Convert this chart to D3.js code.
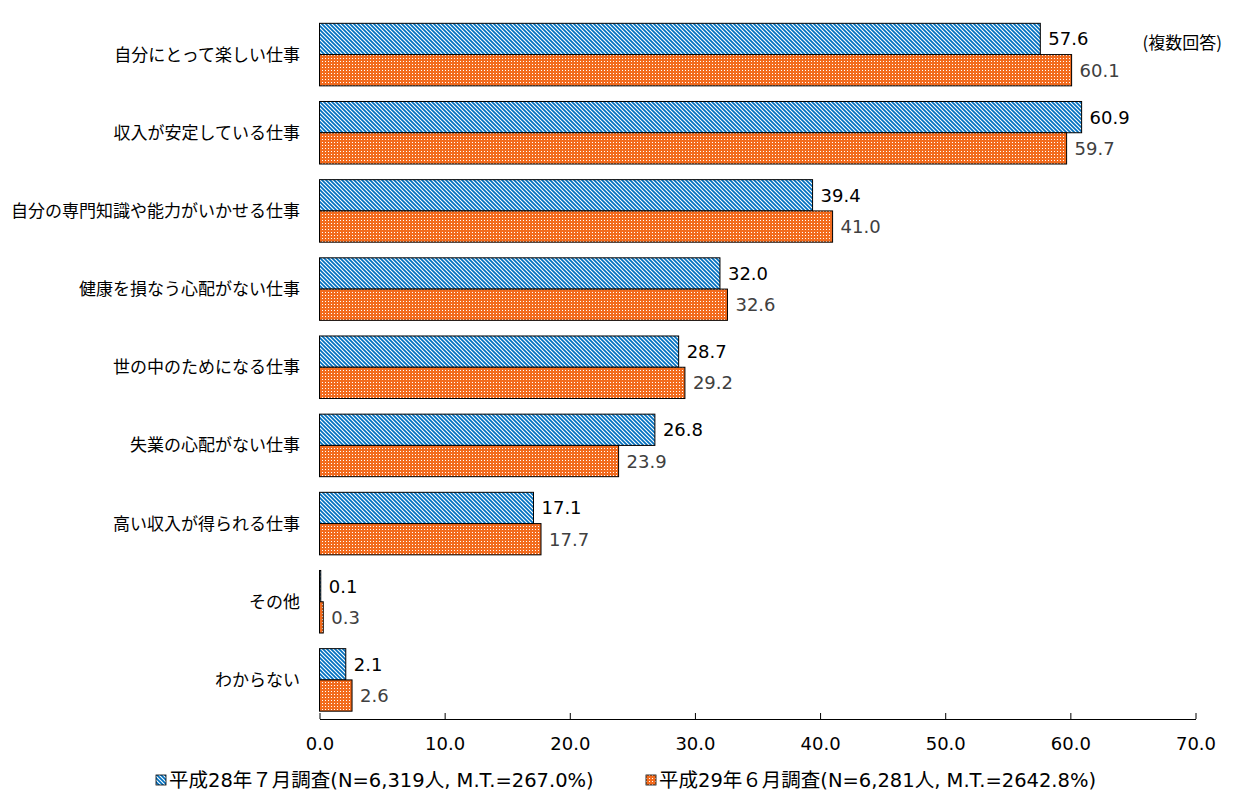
<!DOCTYPE html>
<html><head><meta charset="utf-8">
<script src="https://cdn.jsdelivr.net/npm/d3@7"></script>
<style>
body{margin:0;background:#fff;}
svg{display:block;}
</style></head>
<body>
<svg id="c" width="1233" height="808"></svg>
<script>
const categories = ["自分にとって楽しい仕事","収入が安定している仕事","自分の専門知識や能力がいかせる仕事","健康を損なう心配がない仕事","世の中のためになる仕事","失業の心配がない仕事","高い収入が得られる仕事","その他","わからない"];
const seriesNames = ["平成28年７月調査(N=6,319人, M.T.=267.0%)","平成29年６月調査(N=6,281人, M.T.=2642.8%)"];
const valuesH28 = [57.6,60.9,39.4,32.0,28.7,26.8,17.1,0.1,2.1];
const valuesH29 = [60.1,59.7,41.0,32.6,29.2,23.9,17.7,0.3,2.6];
const xTicks = [0,10,20,30,40,50,60,70];
const note = "(複数回答)";

const svg = d3.select("#c");
const jp = "'Noto Sans CJK JP','Noto Sans',sans-serif";
const num = "'DejaVu Sans',Verdana,sans-serif";
const mixed = "'DejaVu Sans','Noto Sans CJK JP',sans-serif";

const defs = svg.append("defs");
const pb = defs.append("pattern").attr("id","pBlue").attr("patternUnits","userSpaceOnUse").attr("width",4).attr("height",4);
pb.append("rect").attr("width",4).attr("height",4).attr("fill","#0070C0");
pb.append("path").attr("d","M-1,-1 L5,5 M-1,3 L1,5 M3,-1 L5,1").attr("stroke","#fff").attr("stroke-width",1.1);
const po = defs.append("pattern").attr("id","pOrange").attr("patternUnits","userSpaceOnUse").attr("width",3).attr("height",3);
po.append("rect").attr("width",3).attr("height",3).attr("fill","#F26B1E");
po.append("rect").attr("x",1).attr("y",1).attr("width",1).attr("height",1).attr("fill","#FFFFFF");

const x = d3.scaleLinear().domain([0,70]).range([319.5,1195.5]);
const y = d3.scaleBand().domain(categories).range([15.5,719]).paddingInner(0.2).paddingOuter(0.1);
const sub = d3.scaleBand().domain([0,1]).range([0,y.bandwidth()]);

const series = [
  {vals:valuesH28, fill:"url(#pBlue)", lab:"#000"},
  {vals:valuesH29, fill:"url(#pOrange)", lab:"#404040"}
];

series.forEach((s,si)=>{
  const g = svg.append("g");
  g.selectAll("rect").data(categories).join("rect")
    .attr("x",x(0))
    .attr("y",(c)=>y(c)+sub(si))
    .attr("width",(c,i)=>x(s.vals[i])-x(0))
    .attr("height",sub.bandwidth())
    .attr("fill",s.fill)
    .attr("stroke","#000").attr("stroke-width",1);
  g.selectAll("text").data(categories).join("text")
    .attr("x",(c,i)=>x(s.vals[i])+8)
    .attr("y",(c)=>y(c)+sub(si)+sub.bandwidth()/2)
    .attr("dy","0.36em")
    .attr("font-family",num).attr("font-size",18)
    .attr("fill",s.lab)
    .text((c,i)=>s.vals[i].toFixed(1));
});

// category labels
svg.append("g").selectAll("text").data(categories).join("text")
  .attr("x",300).attr("y",c=>y(c)+y.bandwidth()/2)
  .attr("dy","0.35em").attr("text-anchor","end")
  .attr("font-family",jp).attr("font-size",17).attr("fill","#000")
  .text(c=>c);

// x axis
const ax = svg.append("g").attr("transform","translate(0,719)")
  .call(d3.axisBottom(x).tickValues(xTicks).tickSizeInner(-6).tickSizeOuter(0).tickPadding(18).tickFormat(d3.format(".1f")));
ax.select(".domain").attr("stroke","#000");
ax.selectAll(".tick line").attr("stroke","#000");
ax.selectAll(".tick text").attr("font-family",num).attr("font-size",18).attr("fill","#000");

// note
svg.append("text").attr("x",1222).attr("y",43).attr("dy","0.35em").attr("text-anchor","end")
  .attr("font-family",jp).attr("font-size",17).attr("fill","#000").text(note);

// legend
const legX = [156,646];
const legFill = ["url(#pBlue)","url(#pOrange)"];
seriesNames.forEach((n,i)=>{
  svg.append("rect").attr("x",legX[i]).attr("y",775).attr("width",10).attr("height",10)
    .attr("fill",legFill[i]).attr("stroke","#000").attr("stroke-width",0.8);
  svg.append("text").attr("x",legX[i]+13).attr("y",780).attr("dy","0.35em")
    .attr("font-family",mixed).attr("font-size",19.5).attr("fill","#000").text(n);
});
</script>
</body></html>
